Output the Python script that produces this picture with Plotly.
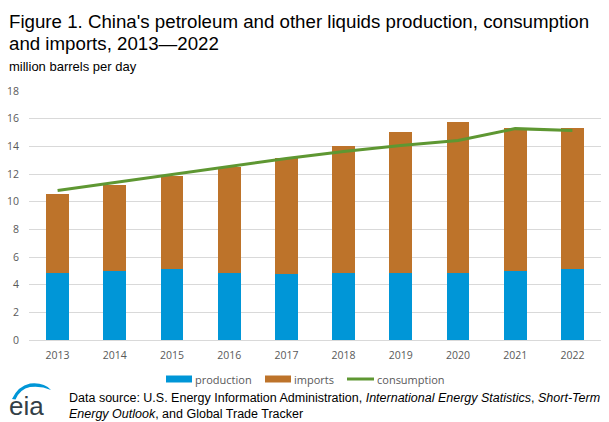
import plotly.graph_objects as go

years = ["2013", "2014", "2015", "2016", "2017", "2018", "2019", "2020", "2021", "2022"]
production = [4.84, 4.98, 5.12, 4.84, 4.80, 4.84, 4.84, 4.85, 4.98, 5.13]
imports = [5.70, 6.21, 6.74, 7.67, 8.39, 9.16, 10.18, 10.89, 10.33, 10.18]
consumption = [10.81, 11.38, 11.95, 12.52, 13.12, 13.62, 14.06, 14.42, 15.28, 15.14]
y_ticks = [0, 2, 4, 6, 8, 10, 12, 14, 16, 18]

W, H = 609, 422
ML, MR, MT, MB = 29, 8, 91, 82
PW = W - ML - MR
PH = H - MT - MB


def px(x):
    return (x - ML) / PW


def py(y):
    return (H - MB - y) / PH


BLUE = "#0096D7"
BROWN = "#BD732A"
GREEN = "#5E9732"
GREY = "#595959"

fig = go.Figure()
fig.add_trace(go.Bar(x=years, y=production, name="production", marker_color=BLUE,
                     marker_line_width=0, width=0.4))
fig.add_trace(go.Bar(x=years, y=imports, name="imports", marker_color=BROWN,
                     marker_line_width=0, width=0.4))
fig.add_trace(go.Scatter(x=years, y=consumption, name="consumption", mode="lines",
                         line=dict(color=GREEN, width=3)))

TITLE_FONT = dict(family="Liberation Sans, Arial", size=18.7, color="#000000")
annotations = [
    dict(text="Figure 1. China's petroleum and other liquids production, consumption",
         x=px(7), y=py(21), xanchor="left", yanchor="middle", font=TITLE_FONT),
    dict(text="and imports, 2013\u20142022",
         x=px(7), y=py(43), xanchor="left", yanchor="middle", font=TITLE_FONT),
    dict(text="million barrels per day", x=px(7), y=py(67), xanchor="left", yanchor="middle",
         font=dict(family="Liberation Sans, Arial", size=13, color="#000000")),
    dict(text="Data source: U.S. Energy Information Administration, <i>International Energy Statistics</i>, <i>Short-Term</i><br><i>Energy Outlook</i>, and Global Trade Tracker",
         x=px(67), y=py(389), xanchor="left", yanchor="top", align="left",
         font=dict(family="Liberation Sans, Arial", size=12.5, color="#000000")),
    dict(text="eia", x=px(26.5), y=py(406), xanchor="center", yanchor="middle", showarrow=False,
         font=dict(family="Liberation Sans Narrow, Liberation Sans, Arial", size=26, color="#333F48")),
]

legend_items = [("production", "bar", BLUE, 166, 192), ("imports", "bar", BROWN, 265, 291),
                ("consumption", "line", GREEN, 347, 374)]
shapes = []
LY = 379
for name, kind, col, x0, x1 in legend_items:
    if kind == "bar":
        shapes.append(dict(type="rect", xref="paper", yref="paper", x0=px(x0), x1=px(x1),
                           y0=py(LY + 3.5), y1=py(LY - 3.5), fillcolor=col, line_width=0))
    else:
        shapes.append(dict(type="line", xref="paper", yref="paper", x0=px(x0), x1=px(x1),
                           y0=py(LY), y1=py(LY), line=dict(color=col, width=3)))
    annotations.append(dict(text=name, x=px(x1 + 1), y=py(LY), xanchor="left", yanchor="middle",
                            font=dict(family="Open Sans, Liberation Sans", size=11, color=GREY)))

# eia logo swoosh
path = "M {},{} ".format(px(12), py(399))
path += "Q {},{} {},{} ".format(px(18), py(386), px(30), py(383.5))
path += "Q {},{} {},{} ".format(px(44), py(382), px(51), py(390))
path += "Q {},{} {},{} ".format(px(41), py(385.5), px(30), py(387))
path += "Q {},{} {},{} Z".format(px(20), py(389), px(15.5), py(399.5))
shapes.append(dict(type="path", xref="paper", yref="paper", path=path,
                   fillcolor="#0096D7", line_width=0))

for a in annotations:
    a.setdefault("showarrow", False)
    a["xref"] = "paper"
    a["yref"] = "paper"

fig.update_layout(
    width=W, height=H, barmode="stack", showlegend=False,
    margin=dict(l=ML, r=MR, t=MT, b=MB, autoexpand=False),
    paper_bgcolor="white", plot_bgcolor="white",
    annotations=annotations, shapes=shapes,
    xaxis=dict(type="category", range=[-0.5, 9.5], showgrid=False, ticks="", showline=False,
               tickfont=dict(family="Open Sans, Liberation Sans", size=10.5, color=GREY),
               ticklabelstandoff=7, automargin=False),
    yaxis=dict(range=[0, 18], tickvals=y_ticks, showgrid=True, gridcolor="#D9D9D9", gridwidth=1,
               zeroline=True, zerolinecolor="#D9D9D9", zerolinewidth=1, ticks="", showline=False,
               tickfont=dict(family="Open Sans, Liberation Sans", size=10.5, color=GREY),
               ticklabelstandoff=9, automargin=False),
)

fig.write_html("out.html", config={"displayModeBar": False},
               post_script="document.body.style.margin='0';document.body.style.overflow='hidden';")
